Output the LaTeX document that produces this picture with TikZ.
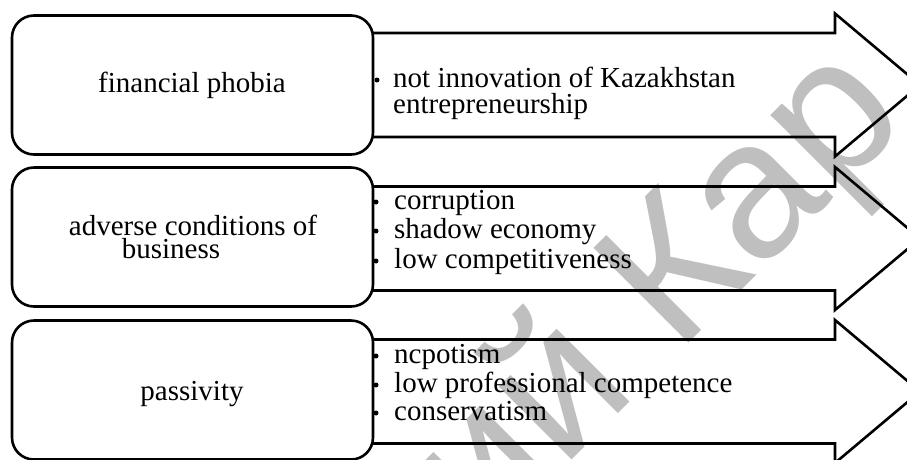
\documentclass[tikz,border=0pt]{standalone}
\usepackage{fontspec}
\setmainfont{Liberation Serif}
\newfontfamily\wmfont{Liberation Sans}
\begin{document}
\begin{tikzpicture}[x=1pt,y=-1pt,
  box/.style={draw, line width=2.6pt, rounded corners=22pt, fill=white, minimum width=361pt, minimum height=139pt, inner sep=0pt},
  arrowshape/.style={draw, line width=2.6pt, line join=miter},
  label/.style={anchor=base, inner sep=0pt, font=\fontsize{29}{30}\selectfont},
  item/.style={anchor=base west, inner sep=0pt, font=\fontsize{29}{30}\selectfont},
  bullet/.style={circle, fill=black, inner sep=0pt, minimum size=5pt},
  wm/.style={inner sep=0pt, text=black!25, font=\wmfont\fontsize{195}{200}\selectfont}]
\useasboundingbox (0,0) rectangle (907,459);
\clip (0,0) rectangle (907,459);
\fill[white] (0,0) rectangle (907,459);
% watermark
\node[wm, rotate=45, anchor=base west] (wm) at (485,547) {ий Кар};
% arrows
\foreach \c in {85,238.5,391.5}{
  \draw[arrowshape] (373,\c-52) -- (835,\c-52) -- (835,\c-71.5) -- (920,\c) -- (835,\c+71.5) -- (835,\c+52) -- (373,\c+52);
}
% boxes
\node[box] (b1) at (192.5,85) {};
\node[box] (b2) at (192.5,237) {};
\node[box] (b3) at (192.5,390) {};
% left labels
\node[label] (l1) at (192,92) {financial phobia};
\node[label] (l2a) at (193,235) {adverse conditions of};
\node[label] (l2b) at (171,258) {business};
\node[label] (l3) at (192,400) {passivity};
% row 1 items
\node[bullet] (d11) at (377,80) {};
\node[item] (t11) at (393,87) {not innovation of Kazakhstan};
\node[item] (t12) at (393,113) {entrepreneurship};
% row 2 items
\node[bullet] (d21) at (376,202) {};
\node[item] (t21) at (394,209) {corruption};
\node[bullet] (d22) at (376,231) {};
\node[item] (t22) at (394,238) {shadow economy};
\node[bullet] (d23) at (376,261) {};
\node[item] (t23) at (394,268) {low competitiveness};
% row 3 items
\node[bullet] (d31) at (376,356) {};
\node[item] (t31) at (394,363) {ncpotism};
\node[bullet] (d32) at (376,385) {};
\node[item] (t32) at (394,392) {low professional competence};
\node[bullet] (d33) at (376,413) {};
\node[item] (t33) at (394,420) {conservatism};
\end{tikzpicture}
\end{document}
